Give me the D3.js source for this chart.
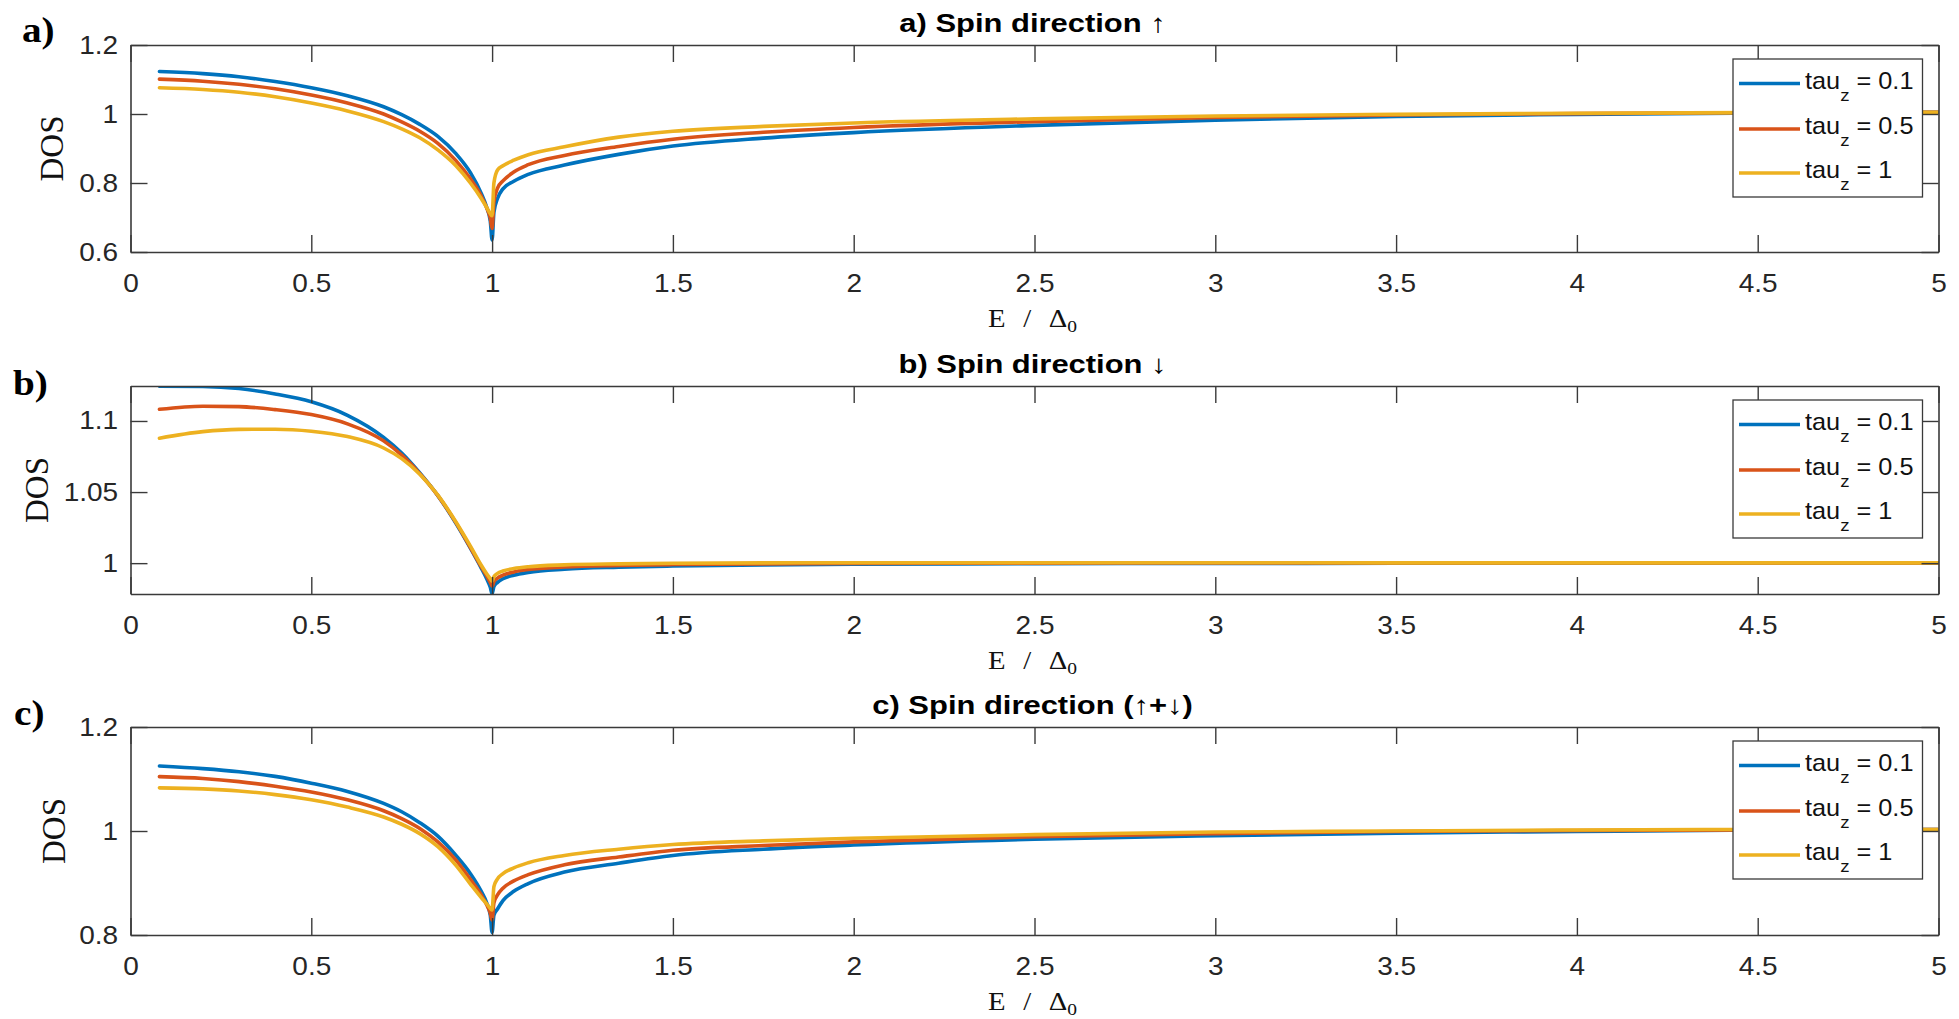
<!DOCTYPE html>
<html><head><meta charset="utf-8">
<script src="https://cdn.jsdelivr.net/npm/d3@7"></script>
<style>body{margin:0;background:#fff;} svg{display:block;}</style>
</head><body>
<svg id="chart" width="1959" height="1019"></svg>
<script>
// ---------- data ----------
const energy = [0.08, 0.2, 0.3, 0.4, 0.5, 0.6, 0.7, 0.75, 0.8, 0.85, 0.9, 0.94, 0.97, 0.985, 0.995, 1.0,
                1.005, 1.015, 1.03, 1.06, 1.1, 1.2, 1.35, 1.5, 1.75, 2, 2.5, 3, 3.5, 4, 4.5, 5];

// a) spin up
const upTau01 = [1.123, 1.117, 1.108, 1.094, 1.076, 1.053, 1.021, 0.998, 0.970, 0.935, 0.885, 0.830, 0.770, 0.730, 0.690, 0.635,
                 0.715, 0.755, 0.783, 0.805, 0.825, 0.852, 0.883, 0.907, 0.930, 0.946, 0.967, 0.982, 0.993, 0.999, 1.003, 1.005];
const upTau05 = [1.101, 1.095, 1.086, 1.073, 1.055, 1.032, 1.000, 0.977, 0.950, 0.915, 0.865, 0.812, 0.762, 0.728, 0.698, 0.668,
                 0.745, 0.785, 0.806, 0.832, 0.853, 0.880, 0.906, 0.927, 0.947, 0.961, 0.978, 0.990, 0.997, 1.001, 1.004, 1.005];
const upTau1  = [1.076, 1.071, 1.063, 1.050, 1.032, 1.009, 0.978, 0.957, 0.931, 0.896, 0.850, 0.800, 0.755, 0.729, 0.711, 0.705,
                 0.800, 0.838, 0.850, 0.866, 0.882, 0.905, 0.933, 0.950, 0.964, 0.974, 0.986, 0.994, 0.999, 1.002, 1.004, 1.005];

// b) spin down
const downTau01 = [1.1245, 1.1243, 1.1228, 1.1190, 1.1135, 1.1040, 1.0885, 1.0775, 1.0635, 1.0475, 1.0280, 1.0105, 0.9965, 0.9890, 0.9830, 0.9785,
                   0.9835, 0.9865, 0.9890, 0.9915, 0.9935, 0.9958, 0.9972, 0.9980, 0.9988, 0.9992, 0.9996, 0.9998, 0.9999, 1.0000, 1.0001, 1.0002];
const downTau05 = [1.1082, 1.1104, 1.1101, 1.1080, 1.1045, 1.0980, 1.0860, 1.0760, 1.0630, 1.0475, 1.0285, 1.0110, 0.9975, 0.9910, 0.9865, 0.9838,
                   0.9870, 0.9895, 0.9915, 0.9938, 0.9955, 0.9973, 0.9984, 0.9990, 0.9995, 0.9998, 1.0000, 1.0001, 1.0002, 1.0002, 1.0002, 1.0002];
const downTau1  = [1.0879, 1.0925, 1.0941, 1.0942, 1.0928, 1.0890, 1.0810, 1.0735, 1.0625, 1.0478, 1.0290, 1.0120, 0.9985, 0.9925, 0.9890, 0.9873,
                   0.9905, 0.9928, 0.9945, 0.9962, 0.9975, 0.9988, 0.9995, 0.9999, 1.0002, 1.0003, 1.0003, 1.0003, 1.0002, 1.0002, 1.0002, 1.0002];

// c) spin up + down
const sumTau01 = [1.125, 1.120, 1.114, 1.105, 1.092, 1.076, 1.053, 1.037, 1.016, 0.990, 0.953, 0.918, 0.884, 0.862, 0.838, 0.805,
                  0.838, 0.850, 0.866, 0.884, 0.899, 0.921, 0.938, 0.953, 0.965, 0.973, 0.984, 0.991, 0.996, 0.999, 1.002, 1.003];
const sumTau05 = [1.1045, 1.101, 1.095, 1.086, 1.075, 1.060, 1.039, 1.024, 1.005, 0.979, 0.944, 0.907, 0.877, 0.858, 0.842, 0.829,
                  0.862, 0.877, 0.890, 0.904, 0.916, 0.935, 0.950, 0.963, 0.972, 0.979, 0.989, 0.995, 0.999, 1.001, 1.002, 1.003];
const sumTau1  = [1.083, 1.081, 1.077, 1.070, 1.060, 1.046, 1.027, 1.013, 0.995, 0.970, 0.934, 0.898, 0.872, 0.860, 0.851, 0.848,
                  0.893, 0.908, 0.918, 0.929, 0.939, 0.953, 0.965, 0.974, 0.981, 0.986, 0.993, 0.998, 1.000, 1.002, 1.003, 1.003];

const tauValues = ["0.1", "0.5", "1"];
const panelTitles = ["a) Spin direction \u2191", "b) Spin direction \u2193", "c) Spin direction (\u2191+\u2193)"];
const panelLetters = ["a)", "b)", "c)"];
const xTicks = [0, 0.5, 1, 1.5, 2, 2.5, 3, 3.5, 4, 4.5, 5];
const yTicksA = [0.6, 0.8, 1, 1.2];
const yTicksB = [1, 1.05, 1.1];
const yTicksC = [0.8, 1, 1.2];
const yDomainA = [0.6, 1.2];
const yDomainB = [0.9783, 1.1246];
const yDomainC = [0.8, 1.2];

// ---------- layout ----------
const colors = ["#0072BD", "#D95319", "#EDB120"];
const svg = d3.select("#chart");
const left = 130.5, right = 1938.5;
const panels = [
  {top: 45,  h: 207, series: [upTau01, upTau05, upTau1], yDomain: yDomainA, yTicks: yTicksA, dosX: 63, letter: [22, 42]},
  {top: 386, h: 208, series: [downTau01, downTau05, downTau1], yDomain: yDomainB, yTicks: yTicksB, dosX: 48, letter: [13, 395]},
  {top: 727, h: 208, series: [sumTau01, sumTau05, sumTau1], yDomain: yDomainC, yTicks: yTicksC, dosX: 65, letter: [14, 725]}
];
const SX = 1.12; // horizontal stretch of the original figure's text
const axisColor = "#3a3a3a";
const textColor = "#262626";
const sans = "Liberation Sans, Arial, sans-serif";
const serif = "Liberation Serif, Times New Roman, serif";
const fmt = d => String(+(+d).toFixed(2));

function stretchedText(g, x, y, str, attrs, sx) {
  const t = g.append("g").attr("transform", `translate(${x},${y}) scale(${sx || SX},1)`)
    .append("text").text(str);
  Object.entries(attrs || {}).forEach(([k, v]) => t.attr(k, v));
  return t;
}

const x = d3.scaleLinear().domain([0, 5]).range([left, right]);

panels.forEach((p, i) => {
  const g = svg.append("g");
  const y = d3.scaleLinear().domain(p.yDomain).range([p.top + p.h, p.top]);
  const bottom = p.top + p.h;

  const cid = "clip" + i;
  svg.append("clipPath").attr("id", cid).append("rect")
    .attr("x", left).attr("y", p.top).attr("width", right - left).attr("height", p.h);

  const line = d3.line().x((d, k) => x(energy[k])).y(d => y(d)).curve(d3.curveMonotoneX);
  const lg = g.append("g").attr("clip-path", `url(#${cid})`);
  p.series.forEach((s, k) => {
    lg.append("path").datum(s).attr("d", line)
      .attr("fill", "none").attr("stroke", colors[k]).attr("stroke-width", 3.6)
      .attr("stroke-linejoin", "round").attr("stroke-linecap", "round");
  });

  const styleAxis = (sel) => {
    sel.select(".domain").attr("stroke", axisColor).attr("stroke-width", 1.6);
    sel.selectAll(".tick line").attr("stroke", axisColor).attr("stroke-width", 1.4);
  };
  const xb = g.append("g").attr("transform", `translate(0,${bottom})`)
    .call(d3.axisBottom(x).tickValues(xTicks).tickSizeInner(-17).tickSizeOuter(0).tickPadding(22).tickFormat(fmt));
  styleAxis(xb);
  xb.selectAll(".tick text").attr("font-family", sans)
    .attr("font-size", 25).attr("fill", textColor).attr("transform", `scale(${SX},1)`);

  const xt = g.append("g").attr("transform", `translate(0,${p.top})`)
    .call(d3.axisTop(x).tickValues(xTicks).tickSizeInner(-17).tickSizeOuter(0).tickFormat(""));
  styleAxis(xt);

  const yl = g.append("g").attr("transform", `translate(${left},0)`)
    .call(d3.axisLeft(y).tickValues(p.yTicks).tickSizeInner(-17).tickSizeOuter(0).tickPadding(11).tickFormat(fmt));
  styleAxis(yl);
  yl.selectAll(".tick text").attr("font-family", sans)
    .attr("font-size", 25).attr("fill", textColor).attr("transform", `scale(${SX},1)`);

  const yr = g.append("g").attr("transform", `translate(${right},0)`)
    .call(d3.axisRight(y).tickValues(p.yTicks).tickSizeInner(-17).tickSizeOuter(0).tickFormat(""));
  styleAxis(yr);

  // title
  stretchedText(g, (left + right) / 2 - 2, p.top - 13.5, panelTitles[i], {
    "text-anchor": "middle", "font-family": sans,
    "font-weight": "bold", "font-size": 26, "fill": "#000"
  }, 1.19);

  // panel letter
  stretchedText(g, p.letter[0], p.letter[1], panelLetters[i], {
    "font-family": serif, "font-weight": "bold", "font-size": 35, "fill": "#000"
  });

  // y label
  g.append("text").attr("transform", `translate(${p.dosX},${p.top + p.h / 2}) rotate(-90)`)
    .attr("text-anchor", "middle").attr("font-family", serif)
    .attr("font-size", 33).attr("fill", "#111").text("DOS");

  // x label
  const xl = g.append("g").attr("transform", `translate(${(left + right) / 2 - 2},${bottom + 75}) scale(1.15,1)`)
    .append("text").attr("text-anchor", "middle")
    .attr("font-family", serif).attr("font-size", 25).attr("fill", "#111")
    .attr("word-spacing", 9);
  xl.append("tspan").text("E / \u0394");
  xl.append("tspan").attr("font-size", 17).attr("dy", 5).text("0");

  // legend
  const lx0 = 1733, lx1 = 1922.5, ly0 = p.top + 14, lh = 138;
  g.append("rect").attr("x", lx0).attr("y", ly0).attr("width", lx1 - lx0).attr("height", lh)
    .attr("fill", "#fff").attr("stroke", axisColor).attr("stroke-width", 1.3);
  const rowY = [24.5, 70, 114];
  tauValues.forEach((tv, k) => {
    const ry = ly0 + rowY[k];
    g.append("line").attr("x1", 1739).attr("x2", 1800).attr("y1", ry).attr("y2", ry)
      .attr("stroke", colors[k]).attr("stroke-width", 3.6);
    const t = stretchedText(g, 1805, ry + 5, "", {
      "font-family": sans, "font-size": 23, "fill": "#111"
    }, 1.1);
    t.append("tspan").text("tau");
    t.append("tspan").attr("font-size", 17).attr("dy", 12).text("z");
    t.append("tspan").attr("dy", -12).text(" = " + tv);
  });
});
</script>
</body></html>
